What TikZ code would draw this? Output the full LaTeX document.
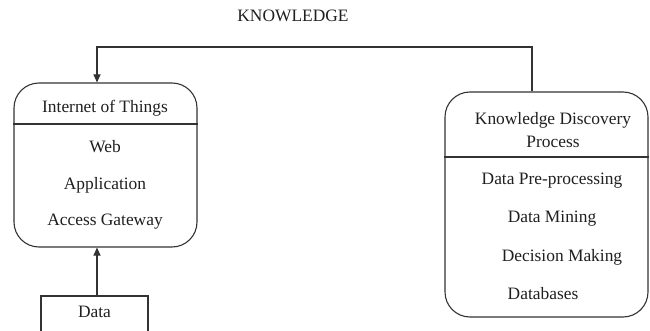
\documentclass[tikz,border=0pt]{standalone}
\usepackage{fontspec}
\setmainfont{Liberation Serif}
\usetikzlibrary{arrows.meta}
\begin{document}
\begin{tikzpicture}[x=1pt,y=-1pt,
  line width=1.1pt,
  every node/.style={font=\fontsize{17.4}{20}\selectfont, text=black!88},
  panel/.style={draw=black!80, rounded corners=25pt, inner sep=0pt},
  sourcebox/.style={draw=black!80, inner sep=0pt},
  arr/.style={draw=black!80, -{Triangle[length=8pt,width=7pt]}},
  divider/.style={draw=black!80},
  lbl/.style={inner sep=0pt, anchor=center}
]
\useasboundingbox (0,0) rectangle (650,331);

% title
\node[lbl] (title) at (293,16) {KNOWLEDGE};

% Internet of Things panel
\node[panel, minimum width=183pt, minimum height=164pt] (iot) at (105.5,165) {};
\draw[divider] (iot.west |- 0,124) -- (iot.east |- 0,124);
\node[lbl] (iothead) at (105,108) {Internet of Things};
\node[lbl] (web) at (105,147) {Web};
\node[lbl] (app) at (105,185) {Application};
\node[lbl] (gate) at (105,222) {Access Gateway};

% Knowledge Discovery Process panel
\node[panel, minimum width=203pt, minimum height=225pt] (kdp) at (546.5,204.5) {};
\draw[divider] (kdp.west |- 0,157) -- (kdp.east |- 0,157);
\node[lbl] (kdphead1) at (553,120) {Knowledge Discovery};
\node[lbl] (kdphead2) at (553,142) {Process};
\node[lbl] (prep) at (552,181) {Data Pre-processing};
\node[lbl] (mine) at (552,219) {Data Mining};
\node[lbl] (decide) at (562,257) {Decision Making};
\node[lbl] (dbs) at (543,294) {Databases};

% Data source box (runs off the lower edge)
\node[sourcebox, minimum width=107pt, minimum height=50pt] (data) at (94.5,321) {};
\node[lbl] (datatxt) at (94.5,312) {Data};

% connectors
\draw[arr] ([xshift=2.5pt]data.north) -- ([xshift=2.5pt]data.north |- iot.south);
\coordinate (kturn) at (532,47);
\coordinate (iturn) at (97,47);
\draw[arr] (kturn |- kdp.north) -- (kturn) -- (iturn) -- (iturn |- iot.north);
\end{tikzpicture}
\end{document}
